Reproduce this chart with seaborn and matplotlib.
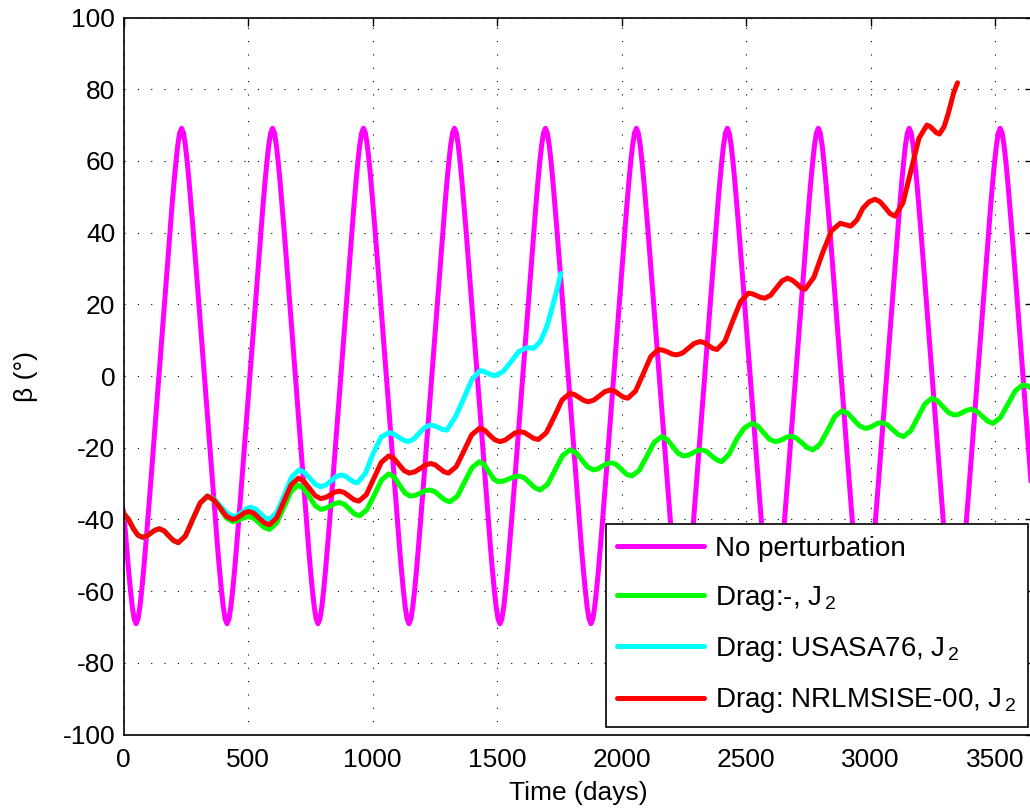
import numpy as np
import pandas as pd
import matplotlib
matplotlib.use("Agg")
import matplotlib.pyplot as plt
import seaborn as sns

# ---------------------------------------------------------------------------
# Beta angle (deg) versus time (days) for four propagation settings
# ---------------------------------------------------------------------------

# Unperturbed orbit: one value every 1/48 of a year, first sample at day 0
sample_step = 7.6094
days_none = [0.0] + [4.94 + sample_step * i for i in range(486)]
beta_none = [
    -37.5, -41.3, -47.8, -54.0, -59.6, -64.4, -67.8,
    # year 1
    -69.1, -67.8, -64.4, -59.6, -54.0, -47.8, -41.3, -34.7, -27.8, -20.9, -14.0, -7.0,
    0.0, 7.0, 14.0, 20.9, 27.8, 34.7, 41.3, 47.8, 54.0, 59.6, 64.4, 67.8,
    69.1, 67.8, 64.4, 59.6, 54.0, 47.8, 41.3, 34.7, 27.8, 20.9, 14.0, 7.0,
    0.0, -7.0, -14.0, -20.9, -27.8, -34.7, -41.3, -47.8, -54.0, -59.6, -64.4, -67.8,
    # year 2
    -69.1, -67.8, -64.4, -59.6, -54.0, -47.8, -41.3, -34.7, -27.8, -20.9, -14.0, -7.0,
    0.0, 7.0, 14.0, 20.9, 27.8, 34.7, 41.3, 47.8, 54.0, 59.6, 64.4, 67.8,
    69.1, 67.8, 64.4, 59.6, 54.0, 47.8, 41.3, 34.7, 27.8, 20.9, 14.0, 7.0,
    0.0, -7.0, -14.0, -20.9, -27.8, -34.7, -41.3, -47.8, -54.0, -59.6, -64.4, -67.8,
    # year 3
    -69.1, -67.8, -64.4, -59.6, -54.0, -47.8, -41.3, -34.7, -27.8, -20.9, -14.0, -7.0,
    0.0, 7.0, 14.0, 20.9, 27.8, 34.7, 41.3, 47.8, 54.0, 59.6, 64.4, 67.8,
    69.1, 67.8, 64.4, 59.6, 54.0, 47.8, 41.3, 34.7, 27.8, 20.9, 14.0, 7.0,
    0.0, -7.0, -14.0, -20.9, -27.8, -34.7, -41.3, -47.8, -54.0, -59.6, -64.4, -67.8,
    # year 4
    -69.1, -67.8, -64.4, -59.6, -54.0, -47.8, -41.3, -34.7, -27.8, -20.9, -14.0, -7.0,
    0.0, 7.0, 14.0, 20.9, 27.8, 34.7, 41.3, 47.8, 54.0, 59.6, 64.4, 67.8,
    69.1, 67.8, 64.4, 59.6, 54.0, 47.8, 41.3, 34.7, 27.8, 20.9, 14.0, 7.0,
    0.0, -7.0, -14.0, -20.9, -27.8, -34.7, -41.3, -47.8, -54.0, -59.6, -64.4, -67.8,
    # year 5
    -69.1, -67.8, -64.4, -59.6, -54.0, -47.8, -41.3, -34.7, -27.8, -20.9, -14.0, -7.0,
    0.0, 7.0, 14.0, 20.9, 27.8, 34.7, 41.3, 47.8, 54.0, 59.6, 64.4, 67.8,
    69.1, 67.8, 64.4, 59.6, 54.0, 47.8, 41.3, 34.7, 27.8, 20.9, 14.0, 7.0,
    0.0, -7.0, -14.0, -20.9, -27.8, -34.7, -41.3, -47.8, -54.0, -59.6, -64.4, -67.8,
    # year 6
    -69.1, -67.8, -64.4, -59.6, -54.0, -47.8, -41.3, -34.7, -27.8, -20.9, -14.0, -7.0,
    0.0, 7.0, 14.0, 20.9, 27.8, 34.7, 41.3, 47.8, 54.0, 59.6, 64.4, 67.8,
    69.1, 67.8, 64.4, 59.6, 54.0, 47.8, 41.3, 34.7, 27.8, 20.9, 14.0, 7.0,
    0.0, -7.0, -14.0, -20.9, -27.8, -34.7, -41.3, -47.8, -54.0, -59.6, -64.4, -67.8,
    # year 7
    -69.1, -67.8, -64.4, -59.6, -54.0, -47.8, -41.3, -34.7, -27.8, -20.9, -14.0, -7.0,
    0.0, 7.0, 14.0, 20.9, 27.8, 34.7, 41.3, 47.8, 54.0, 59.6, 64.4, 67.8,
    69.1, 67.8, 64.4, 59.6, 54.0, 47.8, 41.3, 34.7, 27.8, 20.9, 14.0, 7.0,
    0.0, -7.0, -14.0, -20.9, -27.8, -34.7, -41.3, -47.8, -54.0, -59.6, -64.4, -67.8,
    # year 8
    -69.1, -67.8, -64.4, -59.6, -54.0, -47.8, -41.3, -34.7, -27.8, -20.9, -14.0, -7.0,
    0.0, 7.0, 14.0, 20.9, 27.8, 34.7, 41.3, 47.8, 54.0, 59.6, 64.4, 67.8,
    69.1, 67.8, 64.4, 59.6, 54.0, 47.8, 41.3, 34.7, 27.8, 20.9, 14.0, 7.0,
    0.0, -7.0, -14.0, -20.9, -27.8, -34.7, -41.3, -47.8, -54.0, -59.6, -64.4, -67.8,
    # year 9
    -69.1, -67.8, -64.4, -59.6, -54.0, -47.8, -41.3, -34.7, -27.8, -20.9, -14.0, -7.0,
    0.0, 7.0, 14.0, 20.9, 27.8, 34.7, 41.3, 47.8, 54.0, 59.6, 64.4, 67.8,
    69.1, 67.8, 64.4, 59.6, 54.0, 47.8, 41.3, 34.7, 27.8, 20.9, 14.0, 7.0,
    0.0, -7.0, -14.0, -20.9, -27.8, -34.7, -41.3, -47.8, -54.0, -59.6, -64.4, -67.8,
    # year 10
    -69.1, -67.8, -64.4, -59.6, -54.0, -47.8, -41.3, -34.7, -27.8, -20.9, -14.0, -7.0,
    0.0, 7.0, 14.0, 20.9, 27.8, 34.7, 41.3, 47.8, 54.0, 59.6, 64.4, 67.8,
    69.1, 67.8, 64.4, 59.6, 54.0, 47.8, 41.3, 34.7, 27.8, 20.9, 14.0, 7.0,
    0.0, -7.0, -14.0, -20.9, -27.8, -34.7, -41.3, -47.8, -54.0, -59.6, -64.4, -67.8,
]

# First year is common to every perturbed run
days_common = [0, 20, 39, 58, 77, 94, 110, 127, 144, 163, 182, 201, 220,
               249, 278, 308, 337]
beta_common = [-38.3, -40.0, -42.5, -44.4, -45.0, -44.6, -43.8, -43.0, -42.6,
               -43.2, -44.6, -45.9, -46.5, -44.6, -40.0, -35.4, -33.5]

# J2 only, no drag
days_j2 = days_common + [
    362, 388, 413, 438, 454, 471, 487, 504, 524, 545, 566, 586, 615, 644, 673, 702,
    724, 747, 770, 792, 811, 830, 848, 867, 887, 908, 928, 948, 977, 1007, 1036, 1065,
    1087, 1108, 1130, 1151, 1171, 1191, 1211, 1231, 1251, 1271, 1291, 1311, 1341, 1370,
    1400, 1429, 1448, 1467, 1486, 1505, 1526, 1548, 1569, 1590, 1611, 1632, 1652, 1673,
    1703, 1733, 1763, 1793, 1817, 1840, 1864, 1887, 1905, 1922, 1940, 1958, 1979, 2000,
    2020, 2041, 2071, 2101, 2131, 2161, 2183, 2205, 2226, 2248, 2267, 2285, 2304, 2322,
    2342, 2362, 2382, 2402, 2432, 2463, 2493, 2523, 2546, 2570, 2593, 2616, 2632, 2649,
    2665, 2681, 2703, 2725, 2746, 2768, 2797, 2827, 2856, 2885, 2908, 2932, 2955, 2978,
    2995, 3012, 3028, 3045, 3067, 3089, 3110, 3132, 3161, 3189, 3218, 3246, 3268, 3291,
    3313, 3335, 3353, 3371, 3388, 3406, 3427, 3449, 3470, 3491, 3521, 3551, 3581, 3611,
    3630, 3650, 3670]
beta_j2 = beta_common + [
    -34.5, -37.0, -39.6, -40.6, -40.4, -39.9, -39.4, -39.2, -39.7, -41.0, -42.3, -42.8,
    -41.0, -36.6, -32.2, -30.4, -31.4, -33.8, -36.2, -37.2, -36.9, -36.3, -35.6, -35.3,
    -35.8, -37.2, -38.5, -39.0, -37.3, -33.2, -29.0, -27.3, -28.2, -30.4, -32.6, -33.5,
    -33.3, -32.7, -32.0, -31.8, -32.3, -33.5, -34.6, -35.1, -33.5, -29.5, -25.5, -23.9,
    -24.7, -26.7, -28.7, -29.5, -29.3, -28.7, -28.1, -27.9, -28.5, -29.9, -31.2, -31.8,
    -30.2, -26.2, -22.2, -20.6, -21.4, -23.4, -25.4, -26.2, -25.9, -25.2, -24.5, -24.2,
    -24.7, -26.1, -27.4, -27.9, -26.3, -22.4, -18.5, -16.9, -17.7, -19.6, -21.5, -22.3,
    -22.1, -21.5, -20.8, -20.6, -21.1, -22.3, -23.4, -23.9, -21.8, -17.5, -14.5, -13.2,
    -13.9, -15.8, -17.6, -18.3, -18.1, -17.6, -17.0, -16.8, -17.4, -18.7, -20.0, -20.6,
    -19.0, -15.2, -11.3, -9.7, -10.4, -12.2, -13.9, -14.6, -14.4, -13.8, -13.2, -13.0,
    -13.6, -15.0, -16.3, -16.9, -15.3, -11.6, -7.8, -6.2, -6.9, -8.6, -10.2, -10.9,
    -10.7, -10.1, -9.5, -9.3, -9.9, -11.3, -12.6, -13.2, -11.6, -7.9, -4.1, -2.5,
    -2.8, -3.6, -4.8]

# Drag with USSA76 atmosphere + J2 (run ends at re-entry)
days_ussa = days_common + [
    364, 391, 417, 444, 461, 478, 494, 511, 530, 549, 567, 586, 616, 646, 675, 705,
    727, 749, 770, 792, 812, 833, 853, 873, 890, 906, 923, 939, 971, 1003, 1035, 1067,
    1086, 1105, 1124, 1143, 1165, 1187, 1209, 1231, 1248, 1265, 1281, 1298, 1332, 1365,
    1399, 1432, 1447, 1462, 1477, 1492, 1524, 1556, 1587, 1619, 1632, 1646, 1673, 1700,
    1717, 1733, 1745, 1756]
beta_ussa = beta_common + [
    -34.3, -36.4, -38.4, -39.2, -38.8, -37.9, -37.0, -36.6, -37.1, -38.3, -39.5, -40.0,
    -38.0, -33.1, -28.2, -26.2, -26.9, -28.6, -30.2, -30.9, -30.4, -29.3, -28.1, -27.6,
    -27.9, -28.7, -29.5, -29.8, -27.2, -21.5, -17.0, -15.8, -16.2, -17.1, -17.9, -18.3,
    -17.6, -16.0, -14.4, -13.7, -13.9, -14.4, -14.9, -15.1, -11.5, -6.5, -1.0, 1.5,
    1.3, 0.8, 0.3, 0.1, 1.2, 4.0, 6.8, 7.9, 7.9, 7.7, 9.5, 13.8, 18.0, 22.1, 25.3, 28.6]

# Drag with NRLMSISE-00 atmosphere + J2
days_nrl = days_common + [
    362, 388, 413, 438, 454, 471, 487, 504, 524, 545, 566, 586, 615, 644, 673, 702,
    724, 747, 770, 792, 811, 830, 848, 867, 886, 906, 925, 945, 975, 1005, 1035, 1065,
    1086, 1106, 1127, 1148, 1170, 1191, 1213, 1234, 1252, 1270, 1287, 1305, 1336, 1367,
    1398, 1429, 1450, 1470, 1491, 1512, 1532, 1552, 1572, 1592, 1610, 1629, 1647, 1666,
    1698, 1730, 1761, 1793, 1811, 1830, 1848, 1867, 1889, 1910, 1932, 1954, 1972, 1990,
    2007, 2025, 2056, 2087, 2117, 2148, 2166, 2185, 2203, 2222, 2245, 2269, 2292, 2315,
    2332, 2349, 2366, 2383, 2415, 2446, 2478, 2509, 2526, 2543, 2559, 2576, 2598, 2621,
    2644, 2666, 2684, 2702, 2719, 2737, 2772, 2808, 2843, 2878, 2899, 2920, 2945, 2969,
    2994, 3018, 3038, 3058, 3078, 3098, 3130, 3162, 3194, 3226, 3238, 3251, 3263, 3276,
    3295, 3312, 3333, 3349]
beta_nrl = beta_common + [
    -34.5, -36.8, -39.1, -40.0, -39.7, -38.9, -38.1, -37.8, -38.3, -39.7, -41.0, -41.5,
    -39.6, -35.0, -30.4, -28.5, -29.3, -31.4, -33.4, -34.2, -33.9, -33.2, -32.4, -32.1,
    -32.5, -33.5, -34.5, -34.9, -33.1, -28.6, -24.1, -22.3, -23.0, -24.7, -26.4, -27.1,
    -26.7, -25.8, -24.8, -24.4, -24.8, -25.8, -26.7, -27.1, -25.3, -20.9, -16.4, -14.6,
    -15.1, -16.5, -17.8, -18.3, -17.9, -16.9, -15.9, -15.5, -15.8, -16.6, -17.4, -17.7,
    -15.8, -11.3, -6.7, -4.8, -5.2, -6.0, -6.8, -7.2, -6.7, -5.6, -4.4, -3.9, -4.2,
    -5.1, -5.9, -6.2, -4.2, 0.6, 5.4, 7.4, 7.2, 6.7, 6.1, 5.9, 6.4, 7.8, 9.1, 9.6,
    9.3, 8.5, 7.7, 7.4, 9.7, 15.3, 20.8, 23.1, 22.9, 22.4, 21.9, 21.7, 22.5, 24.5,
    26.5, 27.3, 26.8, 25.8, 24.7, 24.2, 27.5, 34.5, 40.5, 42.6, 42.2, 41.8, 43.5, 46.8,
    48.6, 49.3, 48.6, 47.0, 45.3, 44.6, 48.3, 57.3, 66.3, 70.0, 69.6, 68.8, 67.9, 67.5,
    69.5, 73.3, 78.9, 81.8]

series_labels = [
    "No perturbation",
    r"Drag:-, J$_{\,\mathregular{2}}$",
    r"Drag: USASA76, J$_{\,\mathregular{2}}$",
    r"Drag: NRLMSISE-00, J$_{\,\mathregular{2}}$",
]
series_colors = ["#FF00FF", "#00FF00", "#00FFFF", "#FF0000"]

x_ticks = [0, 500, 1000, 1500, 2000, 2500, 3000, 3500]
y_ticks = [-100, -80, -60, -40, -20, 0, 20, 40, 60, 80, 100]

frames = []
for lab, d, b in zip(series_labels,
                     [days_none, days_j2, days_ussa, days_nrl],
                     [beta_none, beta_j2, beta_ussa, beta_nrl]):
    frames.append(pd.DataFrame({"day": d, "beta": b, "case": lab}))
data = pd.concat(frames, ignore_index=True)

# ---------------------------------------------------------------------------
sns.set_style("white")
plt.rcParams["font.family"] = ["Liberation Sans", "DejaVu Sans"]
plt.rcParams["mathtext.fontset"] = "custom"
plt.rcParams["mathtext.rm"] = "Liberation Sans"
plt.rcParams["mathtext.it"] = "Liberation Sans:italic"
plt.rcParams["text.color"] = "black"
plt.rcParams["axes.labelcolor"] = "black"
plt.rcParams["xtick.color"] = "black"
plt.rcParams["ytick.color"] = "black"

fig = plt.figure(figsize=(10.30, 8.10), dpi=100)
ax = fig.add_axes([123.5 / 1030, 1 - 734.5 / 810, 909.0 / 1030, 717.0 / 810])

sns.lineplot(data=data, x="day", y="beta", hue="case", hue_order=series_labels,
             palette=series_colors, sort=False, estimator=None, linewidth=3.6,
             ax=ax, legend=True)
for ln in ax.get_lines():
    ln.set_solid_joinstyle("round")
    ln.set_solid_capstyle("round")

ax.set_xlim(0, 3650)
ax.set_ylim(-100, 100)
ax.set_xticks(x_ticks)
ax.set_yticks(y_ticks)
ax.set_xticklabels([str(v) for v in x_ticks])
ax.set_yticklabels([str(v) for v in y_ticks])

ax.grid(True, color="black", linestyle=(0, (1, 11)), linewidth=0.8)
ax.tick_params(direction="in", length=6, width=1.0, top=True, right=True,
               labelsize=19, colors="black")
ax.tick_params(axis="y", pad=6)
ax.tick_params(axis="x", pad=10)
for sp in ax.spines.values():
    sp.set_color("black")
    sp.set_linewidth(1.2)

ax.set_xlabel("Time (days)", fontsize=19, labelpad=6, color="black")
ax.set_ylabel("β (°)", fontsize=19, labelpad=18, color="black")

handles, labels = ax.get_legend_handles_labels()
leg = ax.legend(handles, labels, loc="lower right",
                bbox_to_anchor=(0.9951, 0.0105), borderaxespad=0,
                fontsize=20, handlelength=3.1, handletextpad=0.4,
                labelspacing=0.80, borderpad=0.42, fancybox=False,
                framealpha=1, edgecolor="black")
leg.get_frame().set_linewidth(1.2)
for ln in leg.get_lines():
    ln.set_linewidth(3.6)
for t in leg.get_texts():
    t.set_color("black")

fig.savefig("out.png", dpi=100, facecolor="white")
